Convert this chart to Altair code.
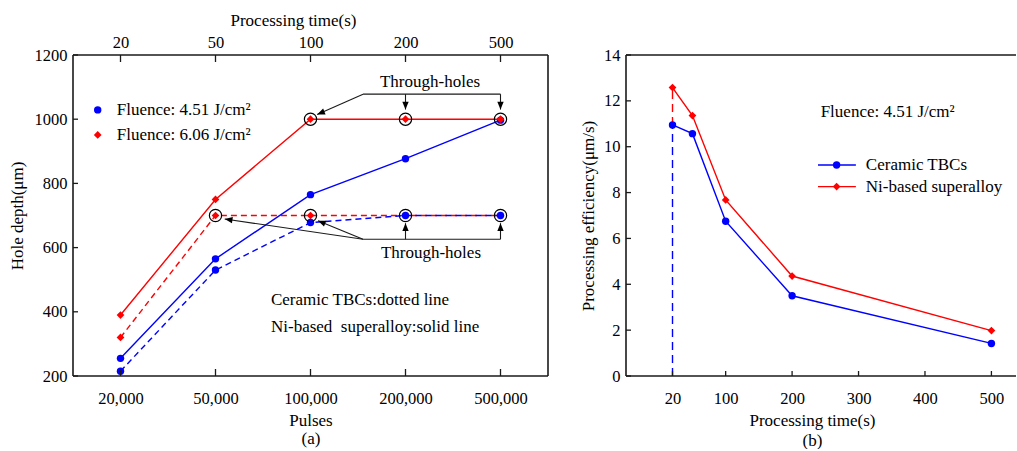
import altair as alt
import pandas as pd

FONT = "Liberation Serif"
BLUE = "#0000ff"
RED = "#ff0000"
INK = "#1a1a1a"

# ---------------- panel (a) data ----------------
pos = [1, 2, 3, 4, 5]
pulse_labels = ["20,000", "50,000", "100,000", "200,000", "500,000"]
time_labels = ["20", "50", "100", "200", "500"]
depth_ni_451 = [255, 565, 765, 877, 997]      # solid blue
depth_ni_606 = [390, 750, 1000, 1000, 1000]   # solid red
depth_tbc_451 = [215, 530, 678, 700, 700]     # dashed blue
depth_tbc_606 = [320, 700, 700, 700, 700]     # dashed red
hole_pos = [3, 4, 5, 2, 3, 4, 5]
hole_depth = [1000, 1000, 1000, 700, 700, 700, 700]
depth_ticks = [200, 400, 600, 800, 1000, 1200]

# annotation geometry (data units of panel a)
ann_x = [3.553, 3.553, 4.0, 5.0, 3.553, 3.553, 3.553, 4.0, 5.0]
ann_y = [1078, 1078, 1078, 1078, 626, 626, 626, 626, 626]
ann_x2 = [3.07, 5.0, 4.0, 5.0, 5.0, 2.097, 3.079, 4.0, 5.0]
ann_y2 = [1015, 1078, 1030, 1030, 626, 689, 684, 676, 676]
head_x = [3.07, 4.0, 5.0, 2.097, 3.079, 4.0, 5.0]
head_y = [1015, 1030, 1030, 689, 684, 676, 676]
head_angle = [247.9, 180, 180, 278.3, 292.5, 0, 0]
note_x = [4.258, 4.268]
note_y = [1117, 582]
note_text = ["Through-holes", "Through-holes"]
leg_a_x = [0.76, 0.76]
leg_a_y = [1029, 951]
leg_a_text = ["Fluence: 4.51 J/cm\u00b2", "Fluence: 6.06 J/cm\u00b2"]
style_x = [2.584, 2.584]
style_y = [437, 353]
style_text = ["Ceramic TBCs:dotted line", "Ni-based\u00a0 superalloy:solid line"]

# ---------------- panel (b) data ----------------
times = [20, 50, 100, 200, 500]
eff_tbc = [10.95, 10.57, 6.75, 3.5, 1.42]
eff_ni = [12.58, 11.36, 7.68, 4.36, 1.98]
time_ticks = [20, 100, 200, 300, 400, 500]
eff_ticks = [0, 2, 4, 6, 8, 10, 12, 14]
leg_b_y = [9.2, 8.26]
leg_b_names = ["Ceramic TBCs", "Ni-based superalloy"]

W1, H = 475, 321
W2 = 390

ARROW = "M0,0L-0.45,1.1L0.45,1.1Z"
ARROW_SIZE = 200

xs = alt.Scale(domain=[0.5, 5.5], nice=False, zero=False)
ys = alt.Scale(domain=[200, 1200], nice=False, zero=False)


def lbl_expr(labels):
    return "[" + ",".join("'" + s + "'" for s in labels) + "][round(datum.value)-1]"


def X(field):
    return alt.X(field, type="quantitative", scale=xs, axis=None)


def Y(field):
    return alt.Y(field, type="quantitative", scale=ys, axis=None)


def sdf(vals):
    return pd.DataFrame({"pos": pos, "v": vals})


def series(vals, color, dashed, shape, size):
    line_kw = dict(color=color, strokeWidth=1.4)
    if dashed:
        line_kw["strokeDash"] = [6, 4]
    d = sdf(vals)
    ln = alt.Chart(d).mark_line(**line_kw).encode(x=X("pos"), y=Y("v"))
    pt = alt.Chart(d).mark_point(filled=True, shape=shape, size=size, color=color, opacity=1).encode(
        x=X("pos"), y=Y("v"))
    return [ln, pt]


one = pd.DataFrame({"k": [0]})
posdf = pd.DataFrame({"pos": pos})

bottom_axis = alt.Chart(posdf).mark_point(opacity=0).encode(
    x=alt.X("pos:Q", scale=xs, axis=alt.Axis(
        orient="bottom", values=pos, labelExpr=lbl_expr(pulse_labels),
        title=["Pulses", "(a)"], titleLineHeight=18, labelPadding=14, titlePadding=6)),
    y=alt.value(0))

top_axis = alt.Chart(posdf).mark_point(opacity=0).encode(
    x=alt.X("pos:Q", scale=xs, axis=alt.Axis(
        orient="top", values=pos, labelExpr=lbl_expr(time_labels),
        title="Processing time(s)", titleX=220, labelPadding=5, titlePadding=5)),
    y=alt.value(0))

ydf = pd.DataFrame({"v": depth_ticks})
left_axis = alt.Chart(ydf).mark_point(opacity=0).encode(
    x=alt.value(0),
    y=alt.Y("v:Q", scale=ys, axis=alt.Axis(values=depth_ticks, format="d", title="Hole depth(\u03bcm)",
                                           labelPadding=6, titlePadding=8)))

ticks_a = [
    alt.Chart(posdf).mark_rule(color=INK, strokeWidth=1.3).encode(x=X("pos"), y=alt.value(H), y2=alt.value(H - 7)),
    alt.Chart(posdf).mark_rule(color=INK, strokeWidth=1.3).encode(x=X("pos"), y=alt.value(0), y2=alt.value(7)),
    alt.Chart(ydf).mark_rule(color=INK, strokeWidth=1.3).encode(y=Y("v"), x=alt.value(0), x2=alt.value(5)),
]

border_a = [
    alt.Chart(one).mark_rule(color=INK, strokeWidth=1.6).encode(x=alt.value(0), x2=alt.value(W1), y=alt.value(0)),
    alt.Chart(one).mark_rule(color=INK, strokeWidth=1.6).encode(x=alt.value(0), x2=alt.value(W1), y=alt.value(H)),
    alt.Chart(one).mark_rule(color=INK, strokeWidth=1.6).encode(x=alt.value(0), y=alt.value(0), y2=alt.value(H)),
    alt.Chart(one).mark_rule(color=INK, strokeWidth=1.6).encode(x=alt.value(W1), y=alt.value(0), y2=alt.value(H)),
]

anndf = pd.DataFrame({"x": ann_x, "y": ann_y, "x2": ann_x2, "y2": ann_y2})
ann_lines = alt.Chart(anndf).mark_rule(color=INK, strokeWidth=1.1).encode(
    x=X("x"), y=Y("y"), x2="x2", y2="y2")
headdf = pd.DataFrame({"x": head_x, "y": head_y, "a": head_angle})
heads = alt.Chart(headdf).mark_point(shape=ARROW, filled=True, color="black", size=ARROW_SIZE, opacity=1,
                                     strokeWidth=0).encode(
    x=X("x"), y=Y("y"), angle=alt.Angle("a:Q", scale=None))
holes = alt.Chart(pd.DataFrame({"x": hole_pos, "y": hole_depth})).mark_point(
    shape="circle", filled=False, color="black", size=150, strokeWidth=1.2, opacity=1).encode(x=X("x"), y=Y("y"))

notes = alt.Chart(pd.DataFrame({"x": note_x, "y": note_y, "t": note_text})).mark_text(
    font=FONT, fontSize=17, align="center", baseline="middle", color="black").encode(x=X("x"), y=Y("y"), text="t:N")
legA_pts = [
    alt.Chart(pd.DataFrame({"x": leg_a_x[:1], "y": leg_a_y[:1]})).mark_point(
        filled=True, shape="circle", size=55, color=BLUE, opacity=1).encode(x=X("x"), y=Y("y")),
    alt.Chart(pd.DataFrame({"x": leg_a_x[1:], "y": leg_a_y[1:]})).mark_point(
        filled=True, shape="diamond", size=60, color=RED, opacity=1).encode(x=X("x"), y=Y("y")),
]
legA_txt = alt.Chart(pd.DataFrame({"x": [v + 0.2 for v in leg_a_x], "y": leg_a_y, "t": leg_a_text})).mark_text(
    font=FONT, fontSize=17, align="left", baseline="middle", color="black").encode(x=X("x"), y=Y("y"), text="t:N")
style_txt = alt.Chart(pd.DataFrame({"x": style_x, "y": style_y, "t": style_text})).mark_text(
    font=FONT, fontSize=17, align="left", baseline="middle", color="black").encode(x=X("x"), y=Y("y"), text="t:N")

layers_a = (
    [bottom_axis, top_axis, left_axis]
    + series(depth_tbc_606, RED, True, "diamond", 60)
    + series(depth_tbc_451, BLUE, True, "circle", 55)
    + series(depth_ni_451, BLUE, False, "circle", 55)
    + series(depth_ni_606, RED, False, "diamond", 60)
    + [holes, ann_lines, heads, notes] + legA_pts + [legA_txt, style_txt] + ticks_a + border_a
)
left = alt.layer(*layers_a).resolve_axis(x="independent", y="independent").properties(width=W1, height=H)

# ---------------- panel (b) ----------------
bxs = alt.Scale(domain=[-50, 537], nice=False, zero=False)
bys = alt.Scale(domain=[0, 14], nice=False, zero=False)


def BX(f):
    return alt.X(f, type="quantitative", scale=bxs, axis=None)


def BY(f):
    return alt.Y(f, type="quantitative", scale=bys, axis=None)


tdf = pd.DataFrame({"t": time_ticks})
edf = pd.DataFrame({"e": eff_ticks})
b_xaxis = alt.Chart(tdf).mark_point(opacity=0).encode(
    x=alt.X("t:Q", scale=bxs, axis=alt.Axis(values=time_ticks, title=["Processing time(s)", "(b)"],
                                           titleLineHeight=20, titleX=186, labelPadding=14, titlePadding=6)),
    y=alt.value(0))
b_yaxis = alt.Chart(edf).mark_point(opacity=0).encode(
    x=alt.value(0),
    y=alt.Y("e:Q", scale=bys, axis=alt.Axis(values=eff_ticks, title="Processing efficiency(\u03bcm/s)",
                                           labelPadding=6, titlePadding=6)))
ticks_b = [
    alt.Chart(tdf).mark_rule(color=INK, strokeWidth=1.3).encode(x=BX("t"), y=alt.value(H), y2=alt.value(H - 5)),
    alt.Chart(edf).mark_rule(color=INK, strokeWidth=1.3).encode(y=BY("e"), x=alt.value(0), x2=alt.value(5)),
]
border_b = [
    alt.Chart(one).mark_rule(color=INK, strokeWidth=1.6).encode(x=alt.value(0), x2=alt.value(W2), y=alt.value(0)),
    alt.Chart(one).mark_rule(color=INK, strokeWidth=1.6).encode(x=alt.value(0), x2=alt.value(W2), y=alt.value(H)),
    alt.Chart(one).mark_rule(color=INK, strokeWidth=1.6).encode(x=alt.value(0), y=alt.value(0), y2=alt.value(H)),
]
vdash = alt.Chart(pd.DataFrame({"x": [times[0], times[0]], "y": [0, eff_tbc[0]], "y2": [eff_tbc[0], eff_ni[0]],
                                "c": ["b", "r"]})).mark_rule(strokeWidth=1.4, strokeDash=[8, 5]).encode(
    x=BX("x"), y=BY("y"), y2="y2",
    color=alt.Color("c:N", scale=alt.Scale(domain=["b", "r"], range=[BLUE, RED]), legend=None))


def bseries(vals, color, shape, size):
    d = pd.DataFrame({"t": times, "v": vals})
    return [
        alt.Chart(d).mark_line(color=color, strokeWidth=1.4).encode(x=BX("t"), y=BY("v")),
        alt.Chart(d).mark_point(filled=True, shape=shape, size=size, color=color, opacity=1).encode(
            x=BX("t"), y=BY("v")),
    ]


fl_txt = alt.Chart(pd.DataFrame({"x": [243], "y": [11.53], "t": ["Fluence: 4.51 J/cm\u00b2"]})).mark_text(
    font=FONT, fontSize=17, align="left", baseline="middle", color="black").encode(x=BX("x"), y=BY("y"), text="t:N")
legB = []
for yy, col, shp, sz in [(leg_b_y[0], BLUE, "circle", 55), (leg_b_y[1], RED, "diamond", 60)]:
    legB.append(alt.Chart(pd.DataFrame({"x": [239], "x2": [296], "y": [yy]})).mark_rule(color=col, strokeWidth=1.4)
                .encode(x=BX("x"), x2="x2", y=BY("y")))
    legB.append(alt.Chart(pd.DataFrame({"x": [267], "y": [yy]})).mark_point(
        filled=True, shape=shp, size=sz, color=col, opacity=1).encode(x=BX("x"), y=BY("y")))
legB_txt = alt.Chart(pd.DataFrame({"x": [311, 311], "y": leg_b_y, "t": leg_b_names})).mark_text(
    font=FONT, fontSize=17, align="left", baseline="middle", color="black").encode(x=BX("x"), y=BY("y"), text="t:N")

layers_b = ([b_xaxis, b_yaxis, vdash] + bseries(eff_tbc, BLUE, "circle", 55) + bseries(eff_ni, RED, "diamond", 60)
            + [fl_txt] + legB + [legB_txt] + ticks_b + border_b)
right = alt.layer(*layers_b).resolve_axis(x="independent", y="independent").properties(width=W2, height=H)

chart = alt.hconcat(left, right, spacing=30).properties(
    padding={"left": 8, "top": 11, "right": 0, "bottom": 0}, background="white"
).configure_view(strokeWidth=0).configure_axis(
    labelFont=FONT, titleFont=FONT, labelFontSize=16.5, titleFontSize=17, labelColor="black",
    titleColor="black", titleFontWeight="normal", grid=False, domain=False, ticks=False, tickSize=0
)

chart.save("out.html", embed_options={"renderer": "svg", "actions": False})
